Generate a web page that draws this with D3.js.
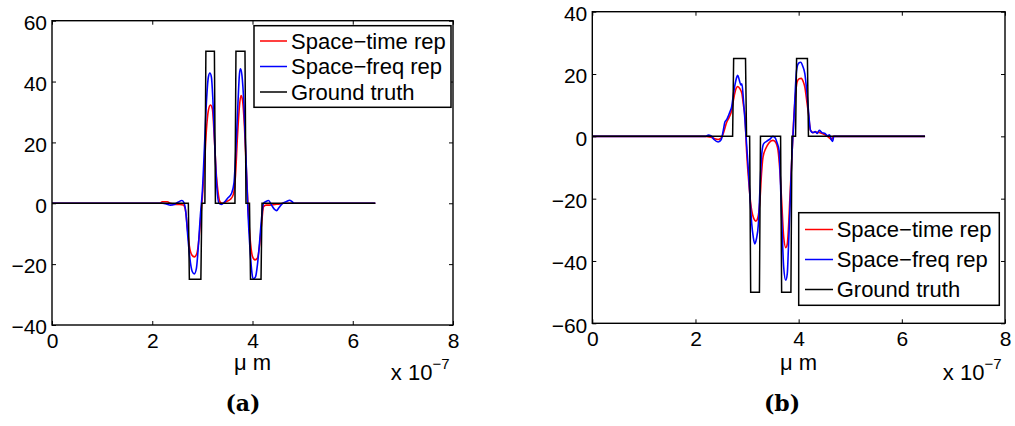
<!DOCTYPE html>
<html>
<head>
<meta charset="utf-8">
<script src="https://cdn.jsdelivr.net/npm/d3@7"></script>
<style>
  html, body { margin: 0; padding: 0; background: #fff; }
  svg { display: block; }
  text { font-family: "Liberation Sans", Arial, Helvetica, sans-serif; fill: #000; }
</style>
</head>
<body>
<svg id="chart" width="1015" height="426"></svg>
<script>
// ---------------- data (x in units of 1e-7 m) ----------------
const xTicks = [0, 2, 4, 6, 8];
const yTicksA = [-40, -20, 0, 20, 40, 60];
const yTicksB = [-60, -40, -20, 0, 20, 40];
const seriesNames = ["Space\u2212time rep", "Space\u2212freq rep", "Ground truth"];
const seriesColors = ["#ff0000", "#0000ff", "#000000"];
const xLabel = "\u03bc m";
const expBase = "x 10";
const expPower = "\u22127";
const captions = ["(a)", "(b)"];

// Ground truth (step profile)
const truthX = [0, 2.72, 2.74, 2.97, 2.99, 3.05, 3.07, 3.24, 3.26, 3.65, 3.67, 3.85, 3.87, 3.94, 3.96, 4.17, 4.19, 6.45];
const truthA = [0, 0, -25, -25, 0, 0, 50, 50, 0, 0, 50, 50, 0, 0, -25, -25, 0, 0];
const truthB = [0, 0, 25, 25, 0, 0, -50, -50, 0, 0, -50, -50, 0, 0, 25, 25, 0, 0];

// Panel (a) reconstructions
const spaceTimeA = [[0,0],[2.15,0],[2.2,0.5],[2.3,0.5],[2.36,0],[2.45,-0.4],[2.55,-0.4],[2.62,-0.6],[2.66,-2],[2.7,-8],[2.74,-14],[2.79,-17],[2.84,-17.6],[2.89,-16.5],[2.93,-12],[2.97,-4],[3.0,2],[3.04,12],[3.08,24],[3.12,30.5],[3.16,32.3],[3.2,31],[3.24,21],[3.28,9],[3.31,4],[3.35,0.5],[3.4,0],[3.48,0.6],[3.56,1.3],[3.62,3],[3.66,9],[3.7,22],[3.74,32],[3.77,35.4],[3.8,34],[3.84,25],[3.88,10],[3.92,-4],[3.96,-13],[4.0,-17.5],[4.05,-18.6],[4.1,-18],[4.14,-14],[4.18,-7],[4.22,-1.1],[4.27,-0.6],[4.35,-0.6],[4.45,-0.4],[4.55,-0.2],[4.62,0],[6.45,0]];
const spaceFreqA = [[0,0],[2.2,0],[2.28,-0.2],[2.36,-0.6],[2.45,-0.3],[2.52,0.4],[2.59,0.9],[2.63,0.3],[2.67,-3],[2.71,-11],[2.75,-18],[2.8,-22.5],[2.84,-23.2],[2.88,-21.5],[2.92,-14],[2.96,-4],[3.0,4],[3.04,18],[3.08,33],[3.12,41.5],[3.15,42.8],[3.18,41.5],[3.21,34],[3.25,18],[3.29,5],[3.33,0],[3.38,-0.4],[3.44,0.4],[3.5,1.6],[3.58,3.2],[3.63,6.6],[3.67,18],[3.71,33],[3.74,42.5],[3.76,44.2],[3.79,42],[3.83,32],[3.87,15],[3.91,-3],[3.95,-15],[3.99,-23],[4.02,-24.8],[4.06,-24.2],[4.1,-20],[4.14,-13],[4.18,-5],[4.22,0],[4.27,0.6],[4.32,0.9],[4.38,-0.6],[4.44,-2],[4.48,-2.4],[4.53,-1.4],[4.6,0],[4.68,0.6],[4.74,1],[4.79,0.5],[4.83,0],[6.45,0]];

// Panel (b) reconstructions
const spaceTimeB = [[0,0],[2.2,0],[2.3,-0.3],[2.38,-0.8],[2.44,-1],[2.5,-0.5],[2.55,1.5],[2.6,4.3],[2.65,6],[2.7,8.2],[2.74,12],[2.78,15],[2.82,16],[2.86,15.3],[2.9,13.7],[2.93,10],[2.96,6.2],[2.99,-4.5],[3.03,-14],[3.07,-21.5],[3.12,-25.9],[3.17,-27.2],[3.21,-26],[3.25,-20.5],[3.28,-12],[3.31,-6.6],[3.36,-4],[3.42,-2.2],[3.5,-1.3],[3.55,-1.8],[3.6,-4.5],[3.64,-12],[3.67,-20.5],[3.71,-32.3],[3.75,-35.7],[3.78,-34.5],[3.8,-30.2],[3.83,-20],[3.86,-9.8],[3.9,4],[3.93,11.6],[3.97,17.4],[4.01,18.5],[4.05,18.6],[4.09,17.5],[4.12,15.8],[4.16,11],[4.19,7.3],[4.23,1.9],[4.28,1.2],[4.35,1.4],[4.42,1.1],[4.5,0.6],[4.58,-0.3],[4.64,-1],[4.67,0],[6.45,0]];
const spaceFreqB = [[0,0],[2.2,0],[2.25,0.4],[2.3,0.2],[2.36,-1],[2.44,-1.8],[2.5,-1],[2.54,2],[2.57,4.6],[2.61,5.5],[2.64,6.7],[2.67,8],[2.7,9.4],[2.74,14],[2.77,16.9],[2.8,19],[2.82,19.6],[2.85,18],[2.88,16.5],[2.9,16.9],[2.93,11.6],[2.96,5],[2.99,-2.4],[3.03,-12],[3.06,-20.5],[3.09,-28],[3.12,-32.3],[3.15,-34.5],[3.18,-33],[3.22,-28],[3.25,-17],[3.28,-6.6],[3.32,-2.4],[3.38,-1.6],[3.45,-0.8],[3.5,0],[3.54,-0.4],[3.58,-2],[3.62,-4.5],[3.67,-25.9],[3.71,-42],[3.75,-46.2],[3.78,-44],[3.8,-36.6],[3.83,-24],[3.86,-9.8],[3.91,6.2],[3.96,21.2],[4.0,23.5],[4.04,23.8],[4.08,22.5],[4.12,20.1],[4.16,14],[4.19,8.3],[4.23,1.9],[4.27,1.2],[4.32,1.5],[4.36,0.9],[4.4,1.9],[4.45,1.2],[4.51,0.9],[4.56,0.2],[4.6,0.5],[4.64,-1.3],[4.66,-1.6],[4.68,0],[6.45,0]];

// ---------------- layout ----------------
const panels = [
  { x0: 52, x1: 453, yTop: 20.7, yBot: 325, yDomain: [-40, 60], yTicks: yTicksA,
    st: spaceTimeA, sf: spaceFreqA, truth: truthA, caption: captions[0], capX: 243,
    legend: { x: 254, y: 25.7, w: 197, h: 81.6, rowY: [41, 66.5, 92], lx0: 260, lx1: 287, tx: 291 } },
  { x0: 592.3, x1: 1005, yTop: 11.7, yBot: 323.3, yDomain: [-60, 40], yTicks: yTicksB,
    st: spaceTimeB, sf: spaceFreqB, truth: truthB, caption: captions[1], capX: 782,
    legend: { x: 798.7, y: 212.7, w: 200.6, h: 92.6, rowY: [229.5, 259.5, 289.5], lx0: 805, lx1: 833, tx: 836.7 } }
];

const svg = d3.select("#chart");
const tickLen = 4;

panels.forEach(p => {
  const x = d3.scaleLinear().domain([0, 8]).range([p.x0, p.x1]);
  const y = d3.scaleLinear().domain(p.yDomain).range([p.yBot, p.yTop]);
  const g = svg.append("g");

  const clipId = "clip" + p.caption.replace(/[()]/g, "");
  svg.append("clipPath").attr("id", clipId).append("rect")
    .attr("x", p.x0).attr("y", p.yTop).attr("width", p.x1 - p.x0).attr("height", p.yBot - p.yTop);
  const plot = g.append("g").attr("clip-path", `url(#${clipId})`);

  const lineSmooth = d3.line().x(d => x(d[0])).y(d => y(d[1])).curve(d3.curveMonotoneX);
  const lineStep = d3.line().x(d => x(d[0])).y(d => y(d[1]));

  plot.append("path").datum(p.st).attr("d", lineSmooth)
    .attr("fill", "none").attr("stroke", seriesColors[0]).attr("stroke-width", 1.6);
  plot.append("path").datum(p.sf).attr("d", lineSmooth)
    .attr("fill", "none").attr("stroke", seriesColors[1]).attr("stroke-width", 1.6);
  const truthPts = truthX.map((v, i) => [v, p.truth[i]]);
  plot.append("path").datum(truthPts).attr("d", lineStep)
    .attr("fill", "none").attr("stroke", seriesColors[2]).attr("stroke-width", 1.5)
    .attr("stroke-linejoin", "miter");

  const axB = g.append("g").attr("transform", `translate(0,${p.yBot})`)
    .call(d3.axisBottom(x).tickValues(xTicks).tickSizeInner(-tickLen).tickSizeOuter(0).tickPadding(8));
  const axT = g.append("g").attr("transform", `translate(0,${p.yTop})`)
    .call(d3.axisTop(x).tickValues(xTicks).tickSizeInner(-tickLen).tickSizeOuter(0).tickFormat(""));
  const axL = g.append("g").attr("transform", `translate(${p.x0},0)`)
    .call(d3.axisLeft(y).tickValues(p.yTicks).tickSizeInner(-tickLen).tickSizeOuter(0).tickPadding(5));
  const axR = g.append("g").attr("transform", `translate(${p.x1},0)`)
    .call(d3.axisRight(y).tickValues(p.yTicks).tickSizeInner(-tickLen).tickSizeOuter(0).tickFormat(""));
  [axB, axT, axL, axR].forEach(a => {
    a.select(".domain").remove();
    a.selectAll(".tick line").attr("stroke", "#000").attr("stroke-width", 1);
    a.selectAll("text").attr("font-size", 21).attr("font-family", "Liberation Sans, Arial, sans-serif").attr("fill", "#000");
  });
  axB.selectAll("text").attr("dy", "0.71em");
  axL.selectAll("text").attr("dy", "0.42em");

  g.append("rect").attr("x", p.x0).attr("y", p.yTop)
    .attr("width", p.x1 - p.x0).attr("height", p.yBot - p.yTop)
    .attr("fill", "none").attr("stroke", "#000").attr("stroke-width", 1.4);

  g.append("text").attr("x", (p.x0 + p.x1) / 2).attr("y", 370)
    .attr("text-anchor", "middle").attr("font-size", 22).text(xLabel);

  const ex = g.append("text").attr("x", p.x1 - 3.5).attr("y", 380).attr("text-anchor", "end").attr("font-size", 22);
  ex.append("tspan").text(expBase);
  ex.append("tspan").attr("font-size", 15).attr("dy", -11).text(expPower);

  g.append("text").attr("x", p.capX).attr("y", 411)
    .attr("text-anchor", "middle").attr("font-size", 22).attr("font-weight", "bold")
    .style("font-family", "DejaVu Serif, serif")
    .text(p.caption);

  const L = p.legend;
  const lg = g.append("g");
  lg.append("rect").attr("x", L.x).attr("y", L.y).attr("width", L.w).attr("height", L.h)
    .attr("fill", "#fff").attr("stroke", "#000").attr("stroke-width", 1.5);
  seriesNames.forEach((name, i) => {
    lg.append("line").attr("x1", L.lx0).attr("x2", L.lx1).attr("y1", L.rowY[i]).attr("y2", L.rowY[i])
      .attr("stroke", seriesColors[i]).attr("stroke-width", 1.5);
    lg.append("text").attr("x", L.tx).attr("y", L.rowY[i]).attr("dy", "0.36em")
      .attr("font-size", 22).text(name);
  });
});
</script>
</body>
</html>
